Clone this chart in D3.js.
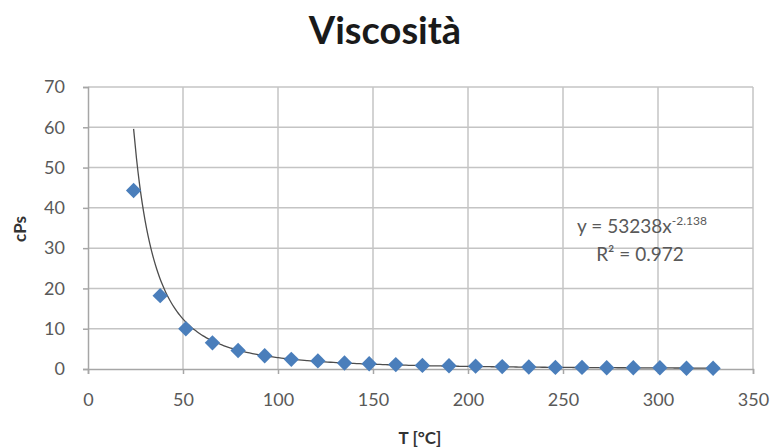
<!DOCTYPE html>
<html>
<head>
<meta charset="utf-8">
<script src="https://cdn.jsdelivr.net/npm/d3@7"></script>
<style>
  body { margin: 0; background: #fff; }
  svg { display: block; font-family: Lato, "Open Sans", sans-serif; }
</style>
</head>
<body>
<svg id="chart" width="772" height="448"></svg>
<script>
// ---- data ----
const temperatures = [24, 38, 51.5, 65.5, 79, 93, 107, 121, 135, 148, 162, 176, 190, 204, 218, 232, 246, 260, 273, 287, 301, 315, 329];
const viscosity    = [44.3, 18.2, 10.0, 6.5, 4.6, 3.3, 2.4, 2.0, 1.5, 1.3, 1.1, 0.9, 0.8, 0.7, 0.6, 0.5, 0.4, 0.4, 0.3, 0.3, 0.3, 0.2, 0.2];
const xTicks = [0, 50, 100, 150, 200, 250, 300, 350];
const yTicks = [0, 10, 20, 30, 40, 50, 60, 70];
const trendCoef = 53238;
const trendExp = -2.138;
const rSquared = "0.972";
const titleText = "Viscosità";
const xTitle = "T [°C]";
const yTitle = "cPs";

// ---- layout ----
const svg = d3.select("#chart");
const plotLeft = 88, plotRight = 753, plotTop = 87, plotBottom = 369;

const x = d3.scaleLinear().domain([0, 350]).range([plotLeft, plotRight]);
const y = d3.scaleLinear().domain([0, 70]).range([plotBottom, plotTop]);

const gridColor = "#c4c4c4";
const labelColor = "#595959";

// gridlines
svg.append("g").selectAll("line").data(yTicks.filter(d => d > 0)).join("line")
  .attr("x1", plotLeft).attr("x2", plotRight)
  .attr("y1", d => y(d)).attr("y2", d => y(d))
  .attr("stroke", gridColor).attr("stroke-width", 1.5);
svg.append("g").selectAll("line").data(xTicks.filter(d => d > 0)).join("line")
  .attr("x1", d => x(d)).attr("x2", d => x(d))
  .attr("y1", plotTop).attr("y2", plotBottom)
  .attr("stroke", gridColor).attr("stroke-width", 1.5);

// axes
const yAxis = d3.axisLeft(y).tickValues(yTicks).tickSize(5).tickPadding(18);
const xAxis = d3.axisBottom(x).tickValues(xTicks).tickSize(5).tickPadding(19);

const gy = svg.append("g").attr("transform", `translate(${plotLeft},0)`).call(yAxis);
const gx = svg.append("g").attr("transform", `translate(0,${plotBottom})`).call(xAxis);

[gx, gy].forEach(g => {
  g.select(".domain").attr("stroke", "#a6a6a6").attr("stroke-width", 1.5);
  g.selectAll(".tick line").attr("stroke", "#a6a6a6").attr("stroke-width", 1.5);
  g.selectAll(".tick text")
    .attr("fill", labelColor)
    .style("font-family", "Lato, 'Open Sans', sans-serif")
    .style("font-size", "18px");
});

// trendline
const trendPts = d3.range(0, 201).map(i => {
  const t = temperatures[0] + (temperatures[temperatures.length - 1] - temperatures[0]) * i / 200;
  return [t, trendCoef * Math.pow(t, trendExp)];
});
svg.append("path")
  .datum(trendPts)
  .attr("fill", "none")
  .attr("stroke", "#4d4d4d")
  .attr("stroke-width", 1.3)
  .attr("d", d3.line().x(d => x(d[0])).y(d => y(d[1])).curve(d3.curveMonotoneX));

// diamonds
const diamond = d3.symbol().type(d3.symbolSquare).size(118);
svg.append("g").selectAll("path").data(temperatures.map((t, i) => [t, viscosity[i]])).join("path")
  .attr("d", diamond)
  .attr("transform", d => `translate(${x(d[0])},${y(d[1])}) rotate(45)`)
  .attr("fill", "#4a7ebb");

// title
svg.append("text")
  .attr("x", 385).attr("y", 44)
  .attr("text-anchor", "middle")
  .style("font-size", "38px").style("font-weight", "bold")
  .attr("fill", "#1a1a1a")
  .text(titleText);

// axis titles
svg.append("text")
  .attr("x", 420).attr("y", 444)
  .attr("text-anchor", "middle")
  .style("font-size", "17px").style("font-weight", "bold")
  .attr("fill", "#333")
  .text(xTitle);

svg.append("text")
  .attr("transform", "translate(26,229) rotate(-90)")
  .attr("text-anchor", "middle")
  .style("font-size", "17px").style("font-weight", "bold")
  .attr("fill", "#333")
  .text(yTitle);

// trendline equation
const eq = svg.append("text")
  .attr("x", 642).attr("y", 233)
  .attr("text-anchor", "middle")
  .attr("fill", labelColor)
  .style("font-size", "19px");
eq.append("tspan").text("y = " + trendCoef + "x");
eq.append("tspan").attr("dy", -8).style("font-size", "12px").text(String(trendExp));

svg.append("text")
  .attr("x", 640).attr("y", 261)
  .attr("text-anchor", "middle")
  .attr("fill", labelColor)
  .style("font-size", "19px")
  .text("R² = " + rSquared);
</script>
</body>
</html>
